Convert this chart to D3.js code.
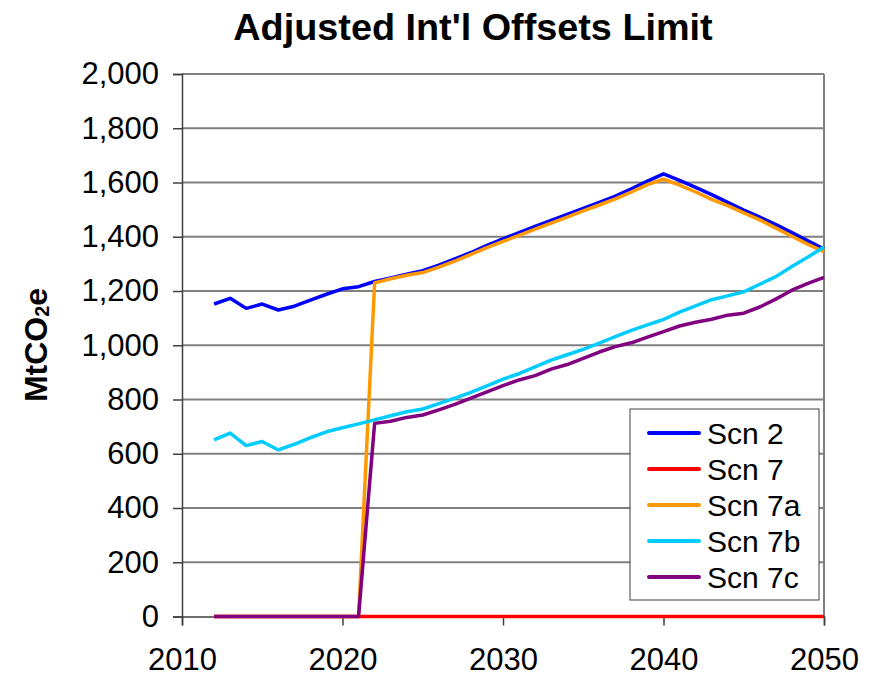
<!DOCTYPE html>
<html>
<head>
<meta charset="utf-8">
<script src="https://cdn.jsdelivr.net/npm/d3@7"></script>
<style>
  html, body { margin: 0; padding: 0; background: #fff; }
  text { font-family: "Liberation Sans", Arial, sans-serif; }
</style>
</head>
<body>
<svg id="chart" width="872" height="677"></svg>
<script>
const years = d3.range(2012, 2051);
const scn2 = [1152, 1173, 1136, 1152, 1130, 1144, 1166, 1188, 1208, 1216, 1235,
  1248, 1262, 1275, 1295, 1318, 1342, 1368, 1392, 1415, 1438, 1460, 1482, 1505,
  1527, 1550, 1577, 1605, 1632, 1608, 1582, 1555, 1527, 1498, 1472, 1445, 1415, 1385, 1355];
const scn7 = years.map(() => 0);
const scn7a = [0, 0, 0, 0, 0, 0, 0, 0, 0, 0, 1230,
  1245, 1258, 1268, 1288, 1310, 1335, 1360, 1383, 1405, 1428, 1450, 1472, 1495,
  1517, 1540, 1565, 1592, 1612, 1590, 1565, 1538, 1515, 1488, 1462, 1432, 1402, 1372, 1345];
const scn7b = [651, 676, 630, 645, 614, 635, 659, 681, 696, 710, 725,
  740, 755, 765, 785, 805, 826, 850, 875, 895, 920, 945, 965, 985,
  1008, 1032, 1055, 1075, 1095, 1122, 1145, 1168, 1182, 1197, 1225, 1253, 1290, 1325, 1362];
const scn7c = [0, 0, 0, 0, 0, 0, 0, 0, 0, 0, 712,
  720, 734, 743, 762, 782, 805, 828, 851, 872, 888, 912, 929, 952,
  975, 995, 1009, 1030, 1050, 1071, 1085, 1096, 1111, 1118, 1141, 1170, 1203, 1228, 1250];
const seriesNames = ["Scn 2", "Scn 7", "Scn 7a", "Scn 7b", "Scn 7c"];
const seriesColors = ["#0000FF", "#FF0000", "#FF9900", "#00CCFF", "#800080"];
const seriesValues = [scn2, scn7, scn7a, scn7b, scn7c];
const xTicks = [2010, 2020, 2030, 2040, 2050];
const yTicks = d3.range(0, 2001, 200);

const svg = d3.select("#chart");
const L = 182, R = 824, T = 74, B = 616.5;
const x = d3.scaleLinear().domain([2010, 2050]).range([L, R]);
const y = d3.scaleLinear().domain([0, 2000]).range([B, T]);

// title
svg.append("text").attr("x", 473).attr("y", 40).attr("text-anchor", "middle")
  .attr("font-size", 37.8).attr("font-weight", "bold").text("Adjusted Int'l Offsets Limit");

// gridlines
svg.append("g").selectAll("line").data(yTicks.filter(d => d > 0)).join("line")
  .attr("x1", L).attr("x2", R).attr("y1", d => y(d)).attr("y2", d => y(d))
  .attr("stroke", "#808080").attr("stroke-width", 2);
// right border
svg.append("line").attr("x1", R).attr("x2", R).attr("y1", T).attr("y2", B)
  .attr("stroke", "#808080").attr("stroke-width", 2);

// axes
const yAxis = d3.axisLeft(y).tickValues(yTicks).tickSize(9).tickPadding(14)
  .tickFormat(d3.format(","));
const gy = svg.append("g").attr("transform", `translate(${L},0)`).call(yAxis);
gy.selectAll("path, line").attr("stroke", "#404040").attr("stroke-width", 1.5);
gy.selectAll("text").attr("font-size", 31).attr("fill", "#000")
  .attr("font-family", "'Liberation Sans', Arial, sans-serif");

const xAxis = d3.axisBottom(x).tickValues(xTicks).tickSize(9).tickPadding(22)
  .tickFormat(d3.format("d"));
const gx = svg.append("g").attr("transform", `translate(0,${B})`).call(xAxis);
gx.selectAll("path, line").attr("stroke", "#404040").attr("stroke-width", 1.5);
gx.selectAll("text").attr("font-size", 31).attr("fill", "#000")
  .attr("font-family", "'Liberation Sans', Arial, sans-serif");

// y label
const yl = svg.append("text").attr("transform", "translate(47,345) rotate(-90)")
  .attr("text-anchor", "middle").attr("font-size", 32).attr("font-weight", "bold");
yl.append("tspan").text("MtCO");
yl.append("tspan").attr("font-size", 20).attr("dy", 2).text("2");
yl.append("tspan").attr("dy", -2).text("e");

// lines
const line = d3.line().x((d, i) => x(years[i])).y(d => y(d));
svg.append("g").selectAll("path").data(seriesValues).join("path")
  .attr("d", d => line(d)).attr("fill", "none")
  .attr("stroke", (d, i) => seriesColors[i]).attr("stroke-width", 3.5)
  .attr("stroke-linejoin", "round");

// legend
const lg = svg.append("g");
lg.append("rect").attr("x", 630).attr("y", 409).attr("width", 189).attr("height", 191)
  .attr("fill", "#fff").attr("stroke", "#404040").attr("stroke-width", 1);
const rows = lg.selectAll("g.row").data(seriesNames).join("g").attr("class", "row")
  .attr("transform", (d, i) => `translate(0,${433 + i * 36})`);
rows.append("line").attr("x1", 649).attr("x2", 699).attr("y1", 0).attr("y2", 0)
  .attr("stroke", (d, i) => seriesColors[i]).attr("stroke-width", 4).attr("stroke-linecap", "round");
rows.append("text").attr("x", 707).attr("y", 11).attr("font-size", 30).text(d => d);
</script>
</body>
</html>
